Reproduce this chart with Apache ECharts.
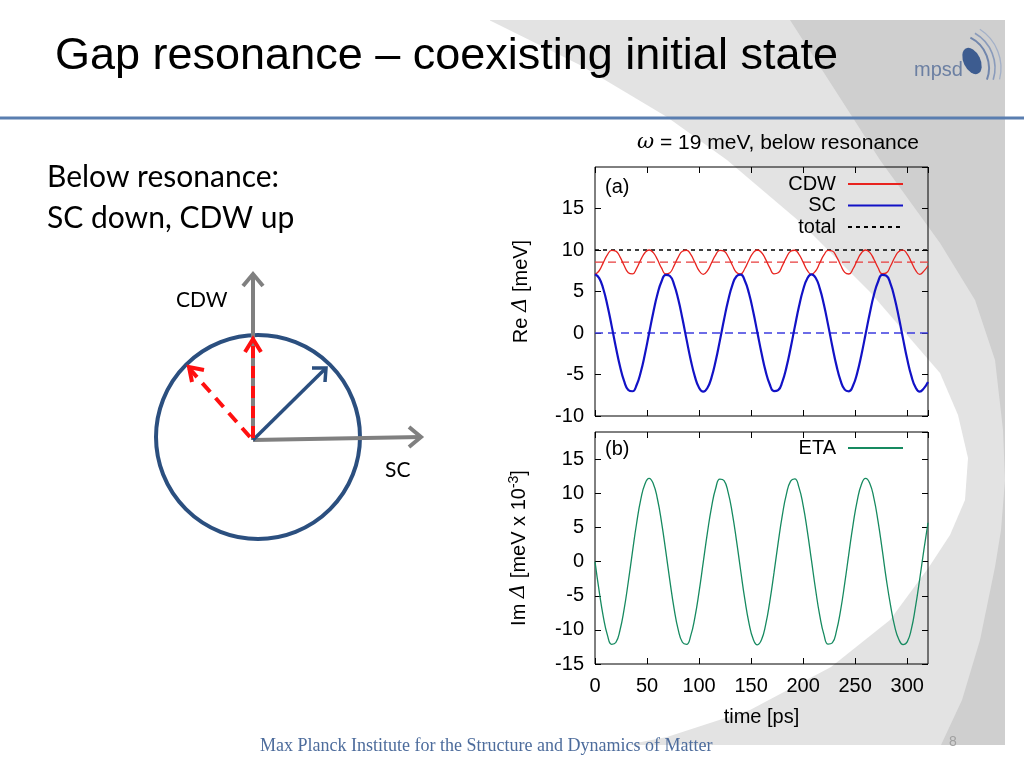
<!DOCTYPE html>
<html>
<head>
<meta charset="utf-8">
<script src="https://cdn.jsdelivr.net/npm/echarts@6/dist/echarts.min.js"></script>
<style>
html,body{margin:0;padding:0;background:#fff;}
#chart{width:1024px;height:768px;}
</style>
</head>
<body>
<div id="chart"></div>
<script>
// ---- data (time in ps) ----
const time = [0,4,8,12,16,20,24,28,32,36,40,44,48,52,56,60,64,68,72,76,80,84,88,92,96,100,104,108,112,116,120,124,128,132,136,140,144,148,152,156,160,164,168,172,176,180,184,188,192,196,200,204,208,212,216,220,224,228,232,236,240,244,248,252,256,260,264,268,272,276,280,284,288,292,296,300,304,308,312,316,320];
const cdw = [7.07,7.50,8.48,9.44,9.96,9.86,9.17,8.14,7.27,7.12,7.79,8.83,9.67,10.00,9.69,8.85,7.81,7.13,7.27,8.12,9.14,9.85,9.97,9.46,8.51,7.52,7.07,7.48,8.46,9.42,9.96,9.87,9.19,8.17,7.29,7.11,7.77,8.80,9.66,10.00,9.70,8.87,7.84,7.13,7.25,8.09,9.12,9.84,9.97,9.48,8.54,7.54,7.07,7.47,8.43,9.40,9.95,9.88,9.21,8.19,7.31,7.11,7.74,8.77,9.64,10.00,9.72,8.89,7.86,7.14,7.24,8.07,9.09,9.83,9.98,9.50,8.56,7.57,7.07,7.45,8.10];
const sc = [7.07,6.61,5.30,3.29,0.86,-1.68,-4.00,-5.81,-6.86,-7.02,-6.27,-4.70,-2.53,-0.03,2.48,4.66,6.24,7.01,6.87,5.84,4.06,1.74,-0.80,-3.24,-5.25,-6.59,-7.07,-6.63,-5.34,-3.35,-0.92,1.62,3.95,5.77,6.84,7.03,6.30,4.75,2.59,0.09,-2.42,-4.62,-6.21,-7.01,-6.89,-5.88,-4.11,-1.80,0.74,3.18,5.21,6.57,7.07,6.65,5.38,3.40,0.98,-1.56,-3.90,-5.74,-6.83,-7.03,-6.33,-4.80,-2.65,-0.15,2.36,4.57,6.18,7.00,6.90,5.91,4.16,1.86,-0.68,-3.13,-5.17,-6.54,-7.07,-6.67,-5.90];
const eta = [0,-4.32,-8.08,-10.80,-12.11,-11.85,-10.05,-6.95,-2.95,1.43,5.63,9.11,11.39,12.20,11.43,9.18,5.73,1.54,-2.85,-6.87,-9.99,-11.82,-12.12,-10.85,-8.16,-4.42,-0.11,4.22,8.00,10.75,12.10,11.88,10.11,7.04,3.05,-1.33,-5.54,-9.03,-11.35,-12.20,-11.46,-9.24,-5.82,-1.65,2.75,6.78,9.93,11.80,12.13,10.89,8.24,4.52,0.21,-4.12,-7.92,-10.70,-12.08,-11.90,-10.17,-7.13,-3.16,1.22,5.44,8.96,11.31,12.20,11.50,9.31,5.91,1.75,-2.64,-6.40,-9.50,-11.40,-12.15,-11.75,-9.90,-6.60,-2.60,1.70,5.70];
const totalLevel = 10;
const cdwMean = 8.55;
const scMean = 0;
const xTicks = [0, 320, 50];      // min, max, step
const yTicksA = [-10, 20, 5];
const yTicksB = [-15, 19, 5];

const pairs = (xs, ys) => xs.map((x, i) => [x, ys[i]]);
const level = v => pairs([xTicks[0], xTicks[1]], [v, v]);
const FONT = 'Liberation Sans';

const chart = echarts.init(document.getElementById('chart'), null, {renderer: 'canvas'});

function tickAxis(grid, pos, range, extra) {
  return Object.assign({
    gridIndex: grid, type: 'value', position: pos,
    min: range[0], max: range[1], interval: range[2],
    axisLine: {show: false, onZero: false},
    axisTick: {show: true, inside: true, length: 6, lineStyle: {color: '#000', width: 1}},
    axisLabel: {show: false},
    splitLine: {show: false}
  }, extra || {});
}
const lbl = {show: true, fontSize: 20, color: '#000', fontFamily: FONT, margin: 11, showMaxLabel: false};
const legendText = {fontSize: 20, lineHeight: 20, color: '#000', fontFamily: FONT, padding: [0, 7, 0, 0]};

const option = {
  animation: false,
  backgroundColor: '#fff',
  textStyle: {fontFamily: FONT},
  grid: [
    {left: 595, top: 167, width: 333, height: 249, show: true, borderColor: '#000', borderWidth: 1, backgroundColor: 'transparent', z: 1},
    {left: 595, top: 432, width: 333, height: 232, show: true, borderColor: '#000', borderWidth: 1, backgroundColor: 'transparent', z: 1}
  ],
  xAxis: [
    tickAxis(0, 'bottom', xTicks),
    tickAxis(1, 'bottom', xTicks, {
      axisLabel: Object.assign({}, lbl, {margin: 12}),
      name: 'time [ps]', nameLocation: 'middle', nameGap: 43,
      nameTextStyle: {fontSize: 20, color: '#000', fontFamily: FONT}
    }),
    tickAxis(0, 'top', xTicks),
    tickAxis(1, 'top', xTicks)
  ],
  yAxis: [
    tickAxis(0, 'left', yTicksA, {
      axisLabel: lbl,
      name: 'Re {it|Δ} [meV]', nameLocation: 'middle', nameGap: 64, nameRotate: 90,
      nameTextStyle: {fontSize: 20, color: '#000', fontFamily: FONT,
        rich: {it: {fontSize: 20, fontStyle: 'italic', fontFamily: 'DejaVu Serif', color: '#000'}}}
    }),
    tickAxis(1, 'left', yTicksB, {
      axisLabel: lbl,
      name: 'Im {it|Δ} [meV x 10{sup|-3}]', nameLocation: 'middle', nameGap: 64, nameRotate: 90,
      nameTextStyle: {fontSize: 20, color: '#000', fontFamily: FONT,
        rich: {it: {fontSize: 20, fontStyle: 'italic', fontFamily: 'DejaVu Serif', color: '#000'},
               sup: {fontSize: 14, color: '#000', fontFamily: FONT, padding: [0, 0, 10, 0]}}}
    }),
    tickAxis(0, 'right', yTicksA),
    tickAxis(1, 'right', yTicksB)
  ],
  legend: [
    {
      data: ['CDW', 'SC', 'total'], orient: 'vertical', right: 115, top: 169,
      align: 'right', itemWidth: 55, itemHeight: 10, itemGap: 1.5,
      itemStyle: {opacity: 0},
      textStyle: legendText,
      selectedMode: false
    },
    {
      data: ['ETA'], orient: 'vertical', right: 115, top: 433,
      align: 'right', itemWidth: 55, itemHeight: 10,
      itemStyle: {opacity: 0},
      textStyle: legendText,
      selectedMode: false
    }
  ],
  series: [
    {
      name: 'CDW mean', type: 'line', xAxisIndex: 0, yAxisIndex: 0, data: level(cdwMean),
      symbol: 'none', z: 3, silent: true,
      lineStyle: {color: '#e83c3c', width: 1.2, type: [8, 5]}, itemStyle: {color: '#e83c3c'}
    },
    {
      name: 'SC mean', type: 'line', xAxisIndex: 0, yAxisIndex: 0, data: level(scMean),
      symbol: 'none', z: 3, silent: true,
      lineStyle: {color: '#3c3ce0', width: 1.3, type: [8, 5]}, itemStyle: {color: '#3c3ce0'}
    },
    {
      name: 'CDW', type: 'line', xAxisIndex: 0, yAxisIndex: 0, data: pairs(time, cdw),
      symbol: 'none', smooth: true, z: 4,
      lineStyle: {color: '#e8231e', width: 1.3}, itemStyle: {color: '#e8231e'}
    },
    {
      name: 'SC', type: 'line', xAxisIndex: 0, yAxisIndex: 0, data: pairs(time, sc),
      symbol: 'none', smooth: true, z: 4,
      lineStyle: {color: '#1212c6', width: 2.2}, itemStyle: {color: '#1212c6'}
    },
    {
      name: 'total', type: 'line', xAxisIndex: 0, yAxisIndex: 0, data: level(totalLevel),
      symbol: 'none', z: 3,
      lineStyle: {color: '#000', width: 1.6, type: [4, 4]}, itemStyle: {color: '#000'}
    },
    {
      name: 'ETA', type: 'line', xAxisIndex: 1, yAxisIndex: 1, data: pairs(time, eta),
      symbol: 'none', smooth: true, z: 4,
      lineStyle: {color: '#168a60', width: 1.3}, itemStyle: {color: '#168a60'}
    }
  ],
  graphic: [
    // slide background shapes
    {type: 'rect', z: -100, silent: true, shape: {x: 490, y: 20, width: 515, height: 725}, style: {fill: '#e3e3e3'}},
    {type: 'polygon', z: -99, silent: true, shape: {points: [[790,20],[1005,20],[1005,745],[941,745],[962,700],[980,640],[995,567],[1001,530],[1005,480],[1003,430],[995,360],[975,300],[940,243],[880,160],[835,90]]}, style: {fill: '#cfcfcf'}},
    {type: 'polygon', z: -98, silent: true, shape: {points: [[470,20],[489,20],[580,65],[667,117],[727,160],[800,222],[870,292],[940,373],[958,415],[968,458],[965,500],[950,535],[929,567],[890,620],[831,667],[750,710],[667,737],[626,745],[470,745]]}, style: {fill: '#ffffff'}},
    // header line
    {type: 'line', z: 10, silent: true, shape: {x1: 0, y1: 118, x2: 1024, y2: 118}, style: {stroke: '#5a7eb0', lineWidth: 3}},
    // title
    {type: 'text', z: 10, x: 55, y: 57, style: {text: 'Gap resonance – coexisting initial state', font: '45px "Liberation Sans"', fill: '#000', verticalAlign: 'middle'}},
    // mpsd logo
    {type: 'text', z: 10, x: 914, y: 70, style: {text: 'mpsd', font: '20px "Liberation Sans"', fill: '#6b7fa2', verticalAlign: 'middle'}},
    {type: 'circle', z: 10, x: 972, y: 61, rotation: 0.45, scaleX: 0.6, shape: {cx: 0, cy: 0, r: 14}, style: {fill: '#3d5c90'}},
    {type: 'arc', z: 10, shape: {cx: 955, cy: 68, r: 34, startAngle: -1.1, endAngle: 0.35}, style: {stroke: '#7186ac', lineWidth: 2, fill: null}},
    {type: 'arc', z: 10, shape: {cx: 955, cy: 68, r: 40, startAngle: -1.05, endAngle: 0.3}, style: {stroke: '#8a9bbb', lineWidth: 1.6, fill: null}},
    {type: 'arc', z: 10, shape: {cx: 955, cy: 68, r: 46, startAngle: -1.0, endAngle: 0.25}, style: {stroke: '#a3b0c8', lineWidth: 1.3, fill: null}},
    // omega caption
    {type: 'text', z: 10, x: 637, y: 143, style: {text: '{w|ω} = 19 meV, below resonance', font: '21px "Liberation Sans"', fill: '#000', verticalAlign: 'middle',
      rich: {w: {font: 'italic 21px "DejaVu Serif"', fill: '#000'}}}},
    // panel labels
    {type: 'text', z: 10, x: 605, y: 187, style: {text: '(a)', font: '20px "Liberation Sans"', fill: '#000', verticalAlign: 'middle'}},
    {type: 'text', z: 10, x: 605, y: 449, style: {text: '(b)', font: '20px "Liberation Sans"', fill: '#000', verticalAlign: 'middle'}},
    // left text
    {type: 'text', z: 10, x: 47, y: 177, style: {text: 'Below resonance:', font: '30px Lato', fill: '#000', verticalAlign: 'middle'}},
    {type: 'text', z: 10, x: 47, y: 218, style: {text: 'SC down, CDW up', font: '30px Lato', fill: '#000', verticalAlign: 'middle'}},
    // diagram
    {type: 'circle', z: 10, shape: {cx: 258, cy: 437, r: 102}, style: {stroke: '#2b4f7f', lineWidth: 4, fill: null}},
    {type: 'line', z: 11, shape: {x1: 253, y1: 440, x2: 253, y2: 274}, style: {stroke: '#808080', lineWidth: 4}},
    {type: 'polyline', z: 11, shape: {points: [[243,286],[253,274],[263,286]]}, style: {stroke: '#808080', lineWidth: 4, fill: null}},
    {type: 'line', z: 11, shape: {x1: 253, y1: 440, x2: 421, y2: 437}, style: {stroke: '#808080', lineWidth: 4}},
    {type: 'polyline', z: 11, shape: {points: [[409,427],[421,437],[409,447]]}, style: {stroke: '#808080', lineWidth: 4, fill: null}},
    {type: 'line', z: 12, shape: {x1: 253, y1: 440, x2: 326, y2: 368}, style: {stroke: '#2b4f7f', lineWidth: 3.5}},
    {type: 'polyline', z: 12, shape: {points: [[312,368],[326,368],[325,382]]}, style: {stroke: '#2b4f7f', lineWidth: 3.5, fill: null}},
    {type: 'line', z: 13, shape: {x1: 253, y1: 438, x2: 253, y2: 340}, style: {stroke: '#ff1010', lineWidth: 4, lineDash: [12, 8]}},
    {type: 'polyline', z: 13, shape: {points: [[245,352],[253,339],[261,352]]}, style: {stroke: '#ff1010', lineWidth: 4, fill: null}},
    {type: 'line', z: 13, shape: {x1: 250, y1: 437, x2: 189, y2: 368}, style: {stroke: '#ff1010', lineWidth: 4, lineDash: [12, 8]}},
    {type: 'polyline', z: 13, shape: {points: [[204,370],[189,367],[192,382]]}, style: {stroke: '#ff1010', lineWidth: 4, fill: null}},
    {type: 'text', z: 10, x: 176, y: 300, style: {text: 'CDW', font: '21px Lato', fill: '#000', verticalAlign: 'middle'}},
    {type: 'text', z: 10, x: 385, y: 470, style: {text: 'SC', font: '21px Lato', fill: '#000', verticalAlign: 'middle'}},
    // footer
    {type: 'text', z: 10, x: 260, y: 746, style: {text: 'Max Planck Institute for the Structure and Dynamics of Matter', font: '18px "Liberation Serif"', fill: '#4d6c9c', verticalAlign: 'middle'}},
    {type: 'text', z: 10, x: 949, y: 742, style: {text: '8', font: '14px "Liberation Sans"', fill: '#a0a0a0', verticalAlign: 'middle'}}
  ]
};
chart.setOption(option);
</script>
</body>
</html>
